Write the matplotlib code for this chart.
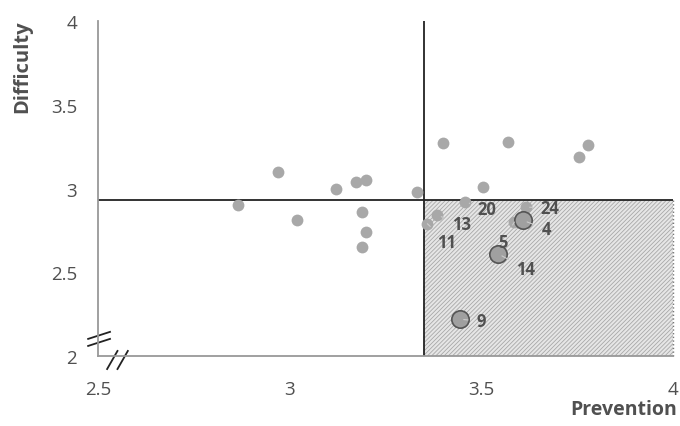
import matplotlib.pyplot as plt
from matplotlib.lines import Line2D
from matplotlib.patches import Rectangle

plt.rcParams['font.family'] = ['Open Sans', 'DejaVu Sans']
plt.rcParams['hatch.linewidth'] = 0.6

# Pontos sem rótulo
prev_plain = [2.865, 2.969, 3.018, 3.12, 3.172, 3.20, 3.188, 3.198, 3.188, 3.333,
              3.401, 3.570, 3.779, 3.755, 3.505]
diff_plain = [2.90, 3.10, 2.81, 3.00, 3.04, 3.05, 2.86, 2.74, 2.65, 2.98,
              3.27, 3.28, 3.26, 3.19, 3.01]

# Pontos rotulados (pequenos)
lab_small = ["20", "24", "13", "11", "5"]
prev_small = [3.458, 3.615, 3.385, 3.359, 3.586]
diff_small = [2.92, 2.89, 2.84, 2.79, 2.80]

# Pontos destacados (círculos grandes)
lab_big = ["4", "14", "9"]
prev_big = [3.609, 3.544, 3.443]
diff_big = [2.81, 2.61, 2.22]

# Médias (linhas de corte)
prev_mean = 3.35
diff_mean = 2.93

# deslocamento dos rótulos (pontos de tela)
offsets = {"20": (9, -5), "24": (11, -1), "13": (10.5, -6), "11": (7, -13),
           "5": (-12, -14), "4": (13, -6.5), "14": (13, -11), "9": (12, -1.5)}

COR_PONTO = "#a8a8a8"
COR_TEXTO = "#505050"

fig = plt.figure(figsize=(6.8, 4.27), dpi=100)
ax = fig.add_axes([0.144, 0.164, 0.846, 0.784])
ax.set_xlim(2.5, 4.0)
ax.set_ylim(2.0, 4.0)

# Quadrante hachurado
quad = Rectangle((prev_mean, 2.0), 4.0 - prev_mean, diff_mean - 2.0,
                 facecolor="#e6e6e6", edgecolor="#a8a8a8", hatch="////////",
                 linewidth=0, zorder=0)
ax.add_patch(quad)
ax.plot([prev_mean, 4.0], [2.0, 2.0], ls=":", color="#777777", lw=1, zorder=1)
ax.plot([4.0, 4.0], [2.0, diff_mean], ls=":", color="#777777", lw=1, zorder=1,
        clip_on=False)

ax.axvline(prev_mean, color="#222222", lw=1.3, zorder=2)
ax.axhline(diff_mean, color="#222222", lw=1.3, zorder=2)

ax.plot(prev_plain, diff_plain, "o", ms=8.5, color=COR_PONTO, mec="none", zorder=3)
ax.plot(prev_small, diff_small, "o", ms=8.5, color=COR_PONTO, mec="none", zorder=3)
ax.plot(prev_big, diff_big, "o", ms=12.5, mfc="#a0a0a0", mec="#555555", mew=1.2,
        zorder=4)

for lab, x, y in zip(lab_small + lab_big, prev_small + prev_big,
                     diff_small + diff_big):
    ax.annotate(lab, (x, y), xytext=offsets[lab], textcoords="offset points",
                fontsize=12, fontweight="bold", color=COR_TEXTO,
                ha="left", va="center", zorder=5,
                arrowprops=dict(arrowstyle="-", color="#cccccc", lw=0.8,
                                shrinkA=4, shrinkB=3))

for s in ("top", "right"):
    ax.spines[s].set_visible(False)
for s in ("left", "bottom"):
    ax.spines[s].set_color("#999999")
    ax.spines[s].set_linewidth(1.3)

ax.set_xticks([2.5, 3, 3.5, 4])
ax.set_xticklabels(["2.5", "3", "3.5", "4"])
ax.set_yticks([2, 2.5, 3, 3.5, 4])
ax.set_yticklabels(["2", "2.5", "3", "3.5", "4"])
ax.tick_params(axis="x", length=0, pad=17, labelsize=13.5, labelcolor=COR_TEXTO)
ax.tick_params(axis="y", length=0, pad=15, labelsize=13.5, labelcolor=COR_TEXTO)

# Marcas de quebra de eixo (y)
for dy in (0.0, 0.021):
    ax.add_line(Line2D([-0.017, 0.021], [0.030 + dy, 0.051 + dy],
                       transform=ax.transAxes, color="#222222", lw=1.3,
                       clip_on=False))
# Marcas de quebra de eixo (x)
for dx in (0.0, 0.018):
    ax.add_line(Line2D([0.016 + dx, 0.034 + dx], [-0.039, 0.015],
                       transform=ax.transAxes, color="#222222", lw=1.3,
                       clip_on=False))

fig.text(0.032, 0.843, "Difficulty", rotation=90, ha="center", va="center",
         fontsize=14.5, fontweight="bold", color=COR_TEXTO)
fig.text(0.996, 0.04, "Prevention", ha="right", va="center",
         fontsize=14, fontweight="bold", color=COR_TEXTO)

fig.savefig("out.png", dpi=100)
